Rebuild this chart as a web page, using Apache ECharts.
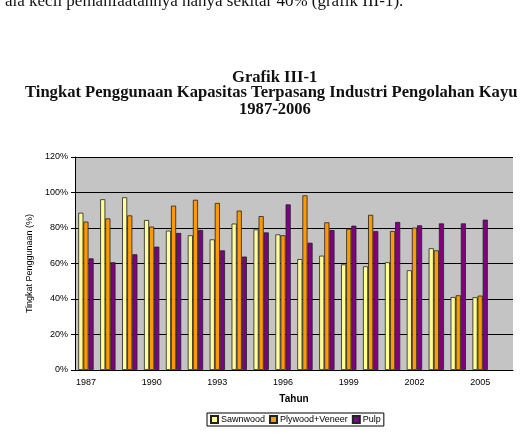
<!DOCTYPE html>
<html lang="en">

<head>
  <meta charset="UTF-8">
  <title>Grafik III-1</title>
  <script src="https://cdn.jsdelivr.net/npm/echarts@6/dist/echarts.min.js"></script>
  <style>
    html, body { margin: 0; padding: 0; background: #fff; }
    #chart { width: 521px; height: 440px; }
  </style>
</head>

<body>
  <div id="chart"></div>
  <script>
    let years = ['1987', '1988', '1989', '1990', '1991', '1992', '1993', '1994', '1995', '1996',
      '1997', '1998', '1999', '2000', '2001', '2002', '2003', '2004', '2005', '2006'];

    // utilisation in %
    let sawnwood = [88.6, 96.2, 97.3, 84.5, 78.5, 75.9, 73.6, 82.5, 79.2, 76.4,
      62.5, 64.4, 59.5, 58.4, 60.7, 56.2, 68.6, 41.1, 41.0, null];
    let plywood = [83.6, 85.4, 87.1, 80.8, 92.6, 95.9, 94.1, 89.8, 86.7, 75.9,
      98.4, 83.2, 79.6, 87.4, 78.3, 80.2, 67.4, 42.1, 41.9, null];
    let pulp = [62.9, 60.7, 65.2, 69.5, 77.2, 78.9, 67.4, 63.9, 77.5, 93.3,
      71.7, 78.9, 81.3, 78.3, 83.4, 81.5, 82.6, 82.6, 84.7, null];

    let yTicks = [0, 20, 40, 60, 80, 100, 120];
  </script>
  <script>
    let chart = echarts.init(document.getElementById('chart'));

    let barStyle = (color) => ({ color: color, borderColor: '#222', borderWidth: 0.8 });
    let serifBold = { fontFamily: 'Liberation Serif', fontWeight: 'bold', fontSize: 16.6, color: '#111' };

    let option = {
      animation: false,
      title: [
        { text: 'Grafik III-1', left: 227, top: 64, textStyle: serifBold },
        { text: 'Tingkat Penggunaan Kapasitas Terpasang Industri Pengolahan Kayu', left: 20, top: 79, textStyle: serifBold },
        { text: '1987-2006', left: 234, top: 96, textStyle: serifBold },
        {
          text: 'ala kecil pemanfaatannya hanya sekitar 40% (grafik III-1).',
          left: 0, top: -12,
          textStyle: { fontFamily: 'Liberation Serif', fontWeight: 'normal', fontSize: 17, color: '#111' }
        }
      ],
      legend: {
        left: 207, top: 413,
        data: ['Sawnwood', 'Plywood+Veneer', 'Pulp'],
        itemWidth: 7, itemHeight: 7, itemGap: 4,
        padding: [2, 3],
        borderColor: '#000', borderWidth: 1,
        icon: 'rect',
        textStyle: { fontFamily: 'Liberation Sans', fontSize: 9, color: '#000', padding: [0, 0, 0, -2] }
      },
      grid: {
        left: 75, right: 8, top: 157, bottom: 70,
        show: true, backgroundColor: '#c4c4c4', borderWidth: 0
      },
      xAxis: {
        type: 'category',
        data: years,
        name: 'Tahun',
        nameLocation: 'middle',
        nameGap: 24,
        nameTextStyle: { fontFamily: 'Liberation Sans', fontWeight: 'bold', fontSize: 10, color: '#000' },
        axisLine: { lineStyle: { color: '#000', width: 1 } },
        axisTick: { interval: 2, length: 4, lineStyle: { color: '#000' } },
        axisLabel: { interval: 2, fontFamily: 'Liberation Sans', fontSize: 9, color: '#000', margin: 8 }
      },
      yAxis: {
        type: 'value',
        min: yTicks[0], max: yTicks[yTicks.length - 1], interval: 20,
        name: 'Tingkat Penggunaan (%)',
        nameLocation: 'middle',
        nameGap: 31,
        nameTextStyle: { fontFamily: 'Liberation Sans', fontSize: 9, color: '#000' },
        axisLine: { show: true, lineStyle: { color: '#000', width: 1 } },
        axisTick: { show: true, length: 4, lineStyle: { color: '#000' } },
        axisLabel: { formatter: '{value}%', fontFamily: 'Liberation Sans', fontSize: 9, color: '#000', margin: 7 },
        splitLine: { lineStyle: { color: '#000', width: 1 } }
      },
      series: [
        { type: 'bar', name: 'Sawnwood', data: sawnwood, itemStyle: barStyle('#ffff99'), barGap: '0%', barCategoryGap: '30%' },
        { type: 'bar', name: 'Plywood+Veneer', data: plywood, itemStyle: barStyle('#ff9900') },
        { type: 'bar', name: 'Pulp', data: pulp, itemStyle: barStyle('#800080') }
      ]
    };

    chart.setOption(option);
  </script>
</body>

</html>
